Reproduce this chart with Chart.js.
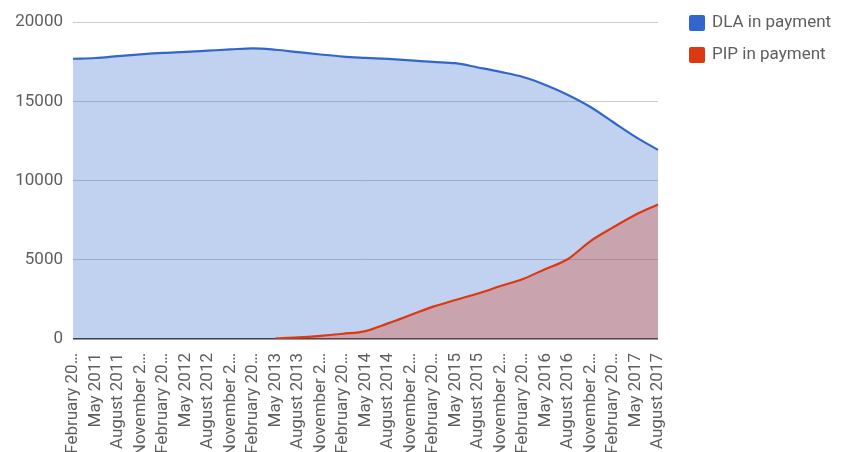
<!DOCTYPE html>
<html>
<head>
<meta charset="utf-8">
<script src="https://cdn.jsdelivr.net/npm/chart.js@4"></script>
<style>
  html, body { margin: 0; padding: 0; background: #fff; }
  #wrap { position: relative; width: 844px; height: 452px; }
</style>
</head>
<body>
<div id="wrap"><canvas id="c" width="844" height="452"></canvas></div>
<script>
// Quarterly claimant counts
const quarters = [
  'February 2011', 'May 2011', 'August 2011', 'November 2011',
  'February 2012', 'May 2012', 'August 2012', 'November 2012',
  'February 2013', 'May 2013', 'August 2013', 'November 2013',
  'February 2014', 'May 2014', 'August 2014', 'November 2014',
  'February 2015', 'May 2015', 'August 2015', 'November 2015',
  'February 2016', 'May 2016', 'August 2016', 'November 2016',
  'February 2017', 'May 2017', 'August 2017'
];
const dlaInPayment = [
  17680, 17730, 17850, 17960, 18050, 18110, 18190, 18270, 18340, 18250,
  18100, 17950, 17820, 17740, 17670, 17580, 17480, 17400, 17130, 16850,
  16530, 16030, 15400, 14640, 13690, 12750, 11930
];
const pipInPayment = [
  null, null, null, null, null, null, null, null, null, 40,
  100, 200, 330, 500, 985, 1510, 2040, 2460, 2870, 3340,
  3790, 4420, 5050, 6180, 7040, 7840, 8490
];
const seriesNames = ['DLA in payment', 'PIP in payment'];
const yTicks = [0, 5000, 10000, 15000, 20000];

const FONT = 'Roboto';
const FONT_SIZE = 17;
const TEXT_COLOR = '#5e5e5e';
const BLUE = '#3366cc';
const RED = '#dc3912';

// Shorten long category names with an ellipsis when they don't fit under the axis
const measureCtx = document.createElement('canvas').getContext('2d');
measureCtx.font = FONT_SIZE + 'px ' + FONT;
const LABEL_MAX = 105;
function fitLabel(text) {
  if (measureCtx.measureText(text).width <= LABEL_MAX) return text;
  let s = text;
  while (s.length > 1 && measureCtx.measureText(s + '…').width > LABEL_MAX) s = s.slice(0, -1);
  return s.trimEnd() + '…';
}

// Legend drawn at the right of the plot area
const sideLegend = {
  id: 'sideLegend',
  afterDraw(chart) {
    const ctx = chart.ctx;
    ctx.save();
    ctx.font = FONT_SIZE + 'px ' + FONT;
    ctx.textBaseline = 'middle';
    ctx.textAlign = 'left';
    chart.data.datasets.forEach((ds, i) => {
      const cy = 23 + i * 32;
      ctx.fillStyle = ds.borderColor;
      ctx.beginPath();
      ctx.roundRect(689, cy - 8, 16, 16, 2);
      ctx.fill();
      ctx.fillStyle = TEXT_COLOR;
      ctx.fillText(ds.label, 712, cy);
    });
    ctx.restore();
  }
};

new Chart(document.getElementById('c'), {
  type: 'line',
  data: {
    labels: quarters,
    datasets: [
      {
        label: seriesNames[0],
        data: dlaInPayment,
        borderColor: BLUE,
        backgroundColor: 'rgba(51,102,204,0.3)',
        borderWidth: 2.2,
        pointRadius: 0,
        fill: 'origin',
        cubicInterpolationMode: 'monotone',
        order: 2
      },
      {
        label: seriesNames[1],
        data: pipInPayment,
        borderColor: RED,
        backgroundColor: 'rgba(220,57,18,0.3)',
        borderWidth: 2.2,
        pointRadius: 0,
        fill: 'origin',
        cubicInterpolationMode: 'monotone',
        order: 1
      }
    ]
  },
  options: {
    responsive: false,
    animation: false,
    layout: { padding: { top: 22, right: 186, left: 0, bottom: 0 } },
    plugins: {
      legend: { display: false },
      tooltip: { enabled: false }
    },
    scales: {
      x: {
        offset: false,
        grid: { display: false },
        border: { display: false },
        ticks: {
          autoSkip: false,
          maxRotation: 90,
          minRotation: 90,
          padding: 6,
          color: TEXT_COLOR,
          font: { family: FONT, size: FONT_SIZE },
          callback: function (v) { return fitLabel(this.getLabelForValue(v)); }
        },
        afterFit: s => { s.height = 113; }
      },
      y: {
        min: 0,
        max: 20000,
        afterBuildTicks: s => { s.ticks = yTicks.map(v => ({ value: v })); },
        grid: {
          drawTicks: false,
          color: ctx => ctx.tick.value === 0 ? '#333333' : '#cccccc',
          lineWidth: ctx => ctx.tick.value === 0 ? 1.5 : 1
        },
        border: { display: false },
        ticks: {
          padding: 10,
          color: TEXT_COLOR,
          font: { family: FONT, size: FONT_SIZE },
          callback: v => String(v)
        },
        afterFit: s => { s.width = 73; }
      }
    }
  },
  plugins: [sideLegend]
});
</script>
</body>
</html>
